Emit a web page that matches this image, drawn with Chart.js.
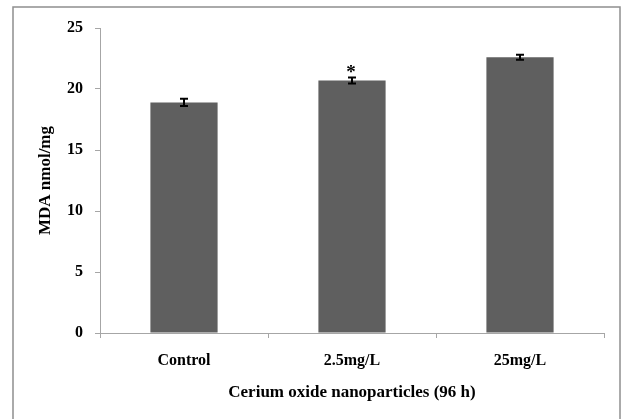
<!DOCTYPE html>
<html>
<head>
<meta charset="utf-8">
<script src="https://cdn.jsdelivr.net/npm/chart.js@4/dist/chart.umd.min.js"></script>
<style>
  html, body { margin: 0; padding: 0; background: #fff; }
  #wrap { width: 624px; height: 419px; position: relative; }
</style>
</head>
<body>
<div id="wrap"><canvas id="c" width="624" height="419"></canvas></div>
<script>
// MDA content by treatment group
const categories = ['Control', '2.5mg/L', '25mg/L'];
const mdaValues = [18.9, 20.7, 22.6];
const mdaErrors = [0.3, 0.25, 0.2];
const significance = ['', '*', ''];
const yTicks = [0, 5, 10, 15, 20, 25];

const serif = '"Liberation Serif", "Times New Roman", serif';
const axisGray = '#a6a6a6';

// Frame around the whole figure
const framePlugin = {
  id: 'frame',
  beforeDraw(chart) {
    const ctx = chart.ctx;
    ctx.save();
    ctx.strokeStyle = '#8f8f8f';
    ctx.lineWidth = 1.5;
    ctx.strokeRect(13, 7, 607, 430);
    ctx.restore();
  }
};

// Standard error bars plus significance marks above each bar
const errorBarPlugin = {
  id: 'errorBars',
  afterDatasetsDraw(chart) {
    const ctx = chart.ctx;
    const yScale = chart.scales.y;
    const meta = chart.getDatasetMeta(0);
    ctx.save();
    ctx.strokeStyle = '#000';
    ctx.lineWidth = 2;
    meta.data.forEach((bar, i) => {
      const x = bar.x;
      const hi = yScale.getPixelForValue(mdaValues[i] + mdaErrors[i]);
      const lo = yScale.getPixelForValue(mdaValues[i] - mdaErrors[i]);
      ctx.beginPath();
      ctx.moveTo(x, hi); ctx.lineTo(x, lo);
      ctx.moveTo(x - 4, hi); ctx.lineTo(x + 4, hi);
      ctx.moveTo(x - 4, lo); ctx.lineTo(x + 4, lo);
      ctx.stroke();
      if (significance[i]) {
        ctx.fillStyle = '#000';
        ctx.font = 'bold 19px ' + serif;
        ctx.textAlign = 'center';
        ctx.textBaseline = 'middle';
        ctx.fillText(significance[i], x - 1, hi - 4);
      }
    });
    ctx.restore();
  }
};

new Chart(document.getElementById('c'), {
  type: 'bar',
  data: {
    labels: categories,
    datasets: [{
      data: mdaValues,
      backgroundColor: '#5f5f5f',
      borderWidth: 0,
      categoryPercentage: 1.0,
      barPercentage: 0.4
    }]
  },
  options: {
    responsive: false,
    animation: false,
    devicePixelRatio: 1,
    layout: { padding: { left: 13, right: 20, top: 28, bottom: 0 } },
    plugins: {
      legend: { display: false },
      tooltip: { enabled: false }
    },
    scales: {
      x: {
        grid: {
          offset: true,
          drawOnChartArea: false,
          drawTicks: true,
          tickLength: 5,
          color: axisGray
        },
        border: { display: true, color: axisGray, width: 1 },
        ticks: {
          color: '#000',
          padding: 13,
          font: { family: serif, size: 16, weight: 'bold' }
        },
        title: {
          display: true,
          text: 'Cerium oxide nanoparticles (96 h)',
          color: '#000',
          padding: { top: 4, bottom: 16 },
          font: { family: serif, size: 17, weight: 'bold' }
        },
        afterFit(scale) { scale.height = 86; }
      },
      y: {
        min: 0,
        max: 25,
        afterBuildTicks(scale) { scale.ticks = yTicks.map(v => ({ value: v })); },
        grid: {
          drawOnChartArea: false,
          drawTicks: true,
          tickLength: 5,
          color: axisGray
        },
        border: { display: true, color: axisGray, width: 1 },
        ticks: {
          color: '#000',
          padding: 12,
          font: { family: serif, size: 16, weight: 'bold' }
        },
        title: {
          display: true,
          text: 'MDA nmol/mg',
          color: '#000',
          padding: 22,
          font: { family: serif, size: 17, weight: 'bold' }
        },
        afterFit(scale) { scale.width = 87; }
      }
    }
  },
  plugins: [framePlugin, errorBarPlugin]
});
</script>
</body>
</html>
